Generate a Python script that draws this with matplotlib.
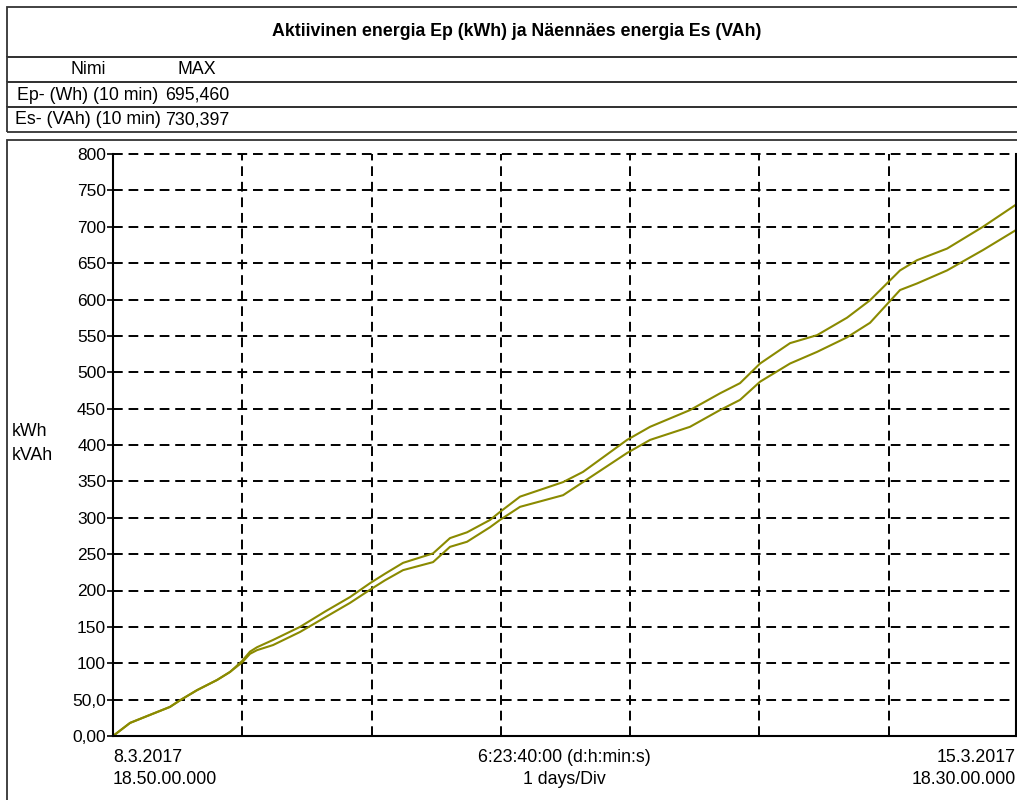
"""
Cumulative active (Ep) and apparent (Es) energy over one week of 10 min logging.
Header table on top, plot below, drawn onto a fixed 1017x800 px canvas.
"""
import matplotlib
matplotlib.use("Agg")
import matplotlib.pyplot as plt
from matplotlib.patches import Rectangle

plt.rcParams["font.family"] = ["Liberation Sans", "DejaVu Sans"]

W, H = 1017, 800

title = "Aktiivinen energia Ep (kWh) ja Näennäes energia Es (VAh)"
col_names = ["Nimi", "MAX"]
series_names = ["Ep- (Wh) (10 min)", "Es- (VAh) (10 min)"]
series_max = ["695,460", "730,397"]

# elapsed time since 8.3.2017 18:50, in days
days = [0.000, 0.132, 0.286, 0.441, 0.518, 0.650, 0.805, 0.905, 0.998, 1.060,
        1.114, 1.238, 1.447, 1.640, 1.834, 1.988, 2.104, 2.244, 2.476, 2.607,
        2.739, 2.917, 2.994, 3.149, 3.482, 3.636, 3.977, 4.155, 4.464, 4.696,
        4.851, 5.006, 5.238, 5.447, 5.679, 5.857, 6.089, 6.220, 6.453, 6.731,
        6.986]
# cumulative energy, kWh / kVAh
es = [0, 18, 29, 40, 49, 63, 77, 88, 103, 116,
      122, 132, 150, 171, 191, 210, 223, 238, 251, 272,
      280, 297, 308, 329, 349, 363, 407, 425, 448, 471,
      485, 512, 540, 551, 575, 599, 640, 654, 670, 700,
      730.397]
ep = [0, 18, 29, 40, 49, 63, 77, 88, 101, 113,
      118, 125, 143, 163, 183, 201, 214, 228, 239, 260,
      267, 287, 297, 315, 331, 349, 389, 407, 425, 448,
      462, 487, 512, 528, 548, 568, 613, 622, 640, 668,
      695.460]

y_ticks = list(range(0, 801, 50))
y_labels = ["0,00", "50,0"] + [str(v) for v in y_ticks[2:]]
t_end = 6 + 23 / 24 + 40 / 1440

line_color = "#8a8a00"
frame_color = "#333333"
fs = 12.8


def fx(x):
    return x / W


def fy(y):
    return 1 - y / H


fig = plt.figure(figsize=(W / 100, H / 100), dpi=100)


def box(x0, y0, x1, y1):
    fig.add_artist(Rectangle((fx(x0), fy(y1)), fx(x1) - fx(x0), fy(y0) - fy(y1),
                             transform=fig.transFigure, fill=False,
                             edgecolor=frame_color, lw=1.3, clip_on=False))


# header table
box(7, 7, 1030, 57)
box(7, 57, 1030, 82)
box(7, 82, 1030, 107)
box(7, 107, 1030, 132)
# chart frame
box(7, 140, 1030, 810)

fig.text(fx(517), fy(32), title, ha="center", va="center",
         fontsize=12.8, fontweight="bold")
fig.text(fx(88), fy(69), col_names[0], ha="center", va="center", fontsize=fs)
fig.text(fx(197), fy(69), col_names[1], ha="center", va="center", fontsize=fs)
for i, (nm, mx) in enumerate(zip(series_names, series_max)):
    yc = 95 + i * 25
    fig.text(fx(88), fy(yc), nm, ha="center", va="center", fontsize=fs)
    fig.text(fx(197), fy(yc), mx, ha="center", va="center", fontsize=fs)

ax = fig.add_axes([fx(113), fy(736), fx(1016) - fx(113), fy(154) - fy(736)])
ax.plot(days, es, color=line_color, lw=1.5)
ax.plot(days, ep, color=line_color, lw=1.5)

ax.set_xlim(0, t_end)
ax.set_ylim(0, 800)
ax.set_yticks(y_ticks)
ax.set_yticklabels(y_labels, fontsize=12.5)
ax.set_xticks(range(1, 7))
ax.tick_params(axis="x", length=0, labelbottom=False)
ax.tick_params(axis="y", length=4, width=1.2, pad=1, colors="black")
ax.grid(True, color="black", ls=(0, (5, 3)), lw=1.4)
for gl in ax.get_ygridlines():
    gl.set_clip_on(False)
ax.spines["top"].set_visible(False)
for s in ["left", "bottom", "right"]:
    ax.spines[s].set_linewidth(1.5)
    ax.spines[s].set_color("black")

fig.text(fx(12), fy(432), "kWh", ha="left", va="center", fontsize=fs)
fig.text(fx(12), fy(455), "kVAh", ha="left", va="center", fontsize=fs)

fig.text(fx(113), fy(757), "8.3.2017", ha="left", va="center", fontsize=fs)
fig.text(fx(113), fy(780), "18.50.00.000", ha="left", va="center", fontsize=fs)
fig.text(fx(564.5), fy(757), "6:23:40:00 (d:h:min:s)", ha="center", va="center", fontsize=fs)
fig.text(fx(564.5), fy(780), "1 days/Div", ha="center", va="center", fontsize=fs)
fig.text(fx(1016), fy(757), "15.3.2017", ha="right", va="center", fontsize=fs)
fig.text(fx(1016), fy(780), "18.30.00.000", ha="right", va="center", fontsize=fs)

fig.savefig("out.png", dpi=100)
